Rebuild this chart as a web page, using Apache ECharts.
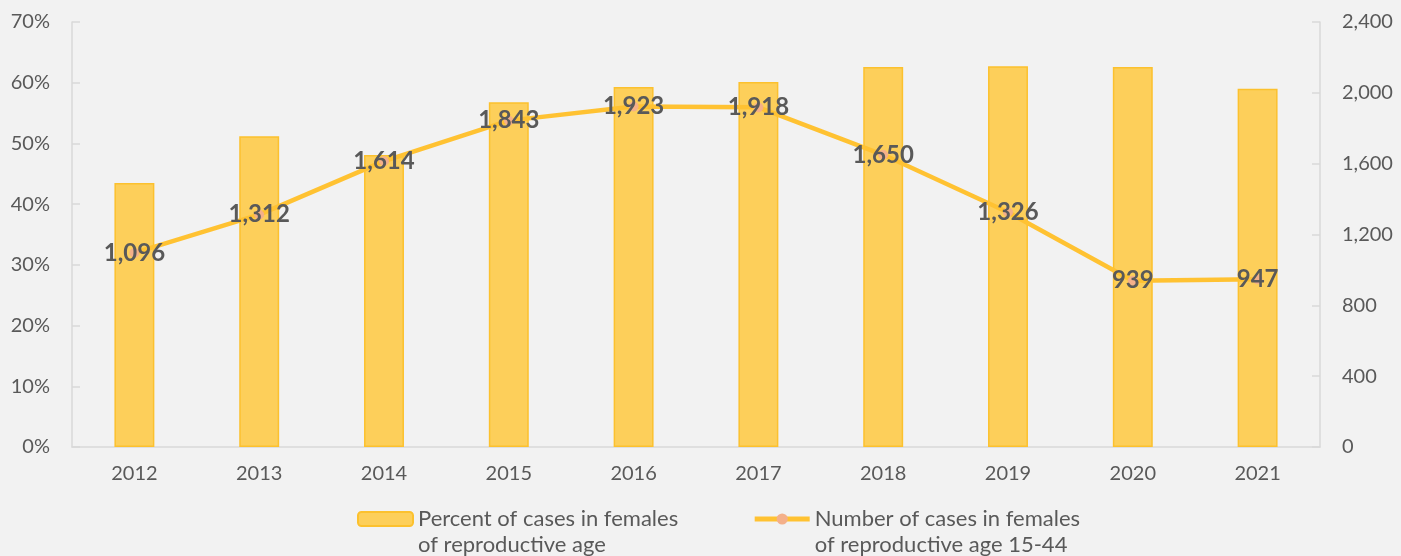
<!DOCTYPE html>
<html>
<head>
<meta charset="utf-8">
<script src="https://cdn.jsdelivr.net/npm/echarts@6/dist/echarts.min.js"></script>
<style>
  html, body { margin: 0; padding: 0; background: #f2f2f2; }
  #chart { width: 1401px; height: 556px; }
</style>
</head>
<body>
<div id="chart"></div>
<script>
// Years on the category axis
const years = ['2012', '2013', '2014', '2015', '2016', '2017', '2018', '2019', '2020', '2021'];
// Share of cases in females of reproductive age (%)
const percentFemales = [43.5, 51.2, 48.1, 56.8, 59.3, 60.1, 62.6, 62.7, 62.6, 59.0];
// Number of cases in females aged 15-44
const casesFemales = [1096, 1312, 1614, 1843, 1923, 1918, 1650, 1326, 939, 947];
// Series names (legend)
const barName = 'Percent of cases in females\nof reproductive age';
const lineName = 'Number of cases in females\nof reproductive age 15-44';

const textColor = '#595959';
const axisColor = '#d9d9d9';
const fontFamily = 'Lato, "Open Sans", sans-serif';

const chart = echarts.init(document.getElementById('chart'));
chart.setOption({
  backgroundColor: '#f2f2f2',
  animation: false,
  textStyle: { fontFamily: fontFamily },
  grid: { left: 72, right: 81, top: 22, bottom: 109, containLabel: false },
  legend: {
    left: 357,
    top: 480,
    padding: 0,
    itemGap: 74,
    itemWidth: 55,
    itemHeight: 14,
    // a leading empty line keeps the first text line level with the icon
    formatter: name => '\n' + name,
    lineStyle: { width: 5 },
    textStyle: {
      color: textColor,
      fontSize: 22,
      fontFamily: fontFamily,
      lineHeight: 26
    },
    data: [barName, lineName]
  },
  xAxis: {
    type: 'category',
    data: years,
    axisLine: { lineStyle: { color: axisColor, width: 1.5 } },
    axisTick: { show: false },
    axisLabel: { color: textColor, fontSize: 20, margin: 17 }
  },
  yAxis: [
    {
      type: 'value',
      min: 0,
      max: 0.7,
      interval: 0.1,
      axisLine: { show: true, lineStyle: { color: axisColor, width: 1.5 } },
      axisTick: { show: true, inside: true, length: 8, lineStyle: { color: axisColor, width: 1.5 } },
      splitLine: { show: false },
      axisLabel: {
        color: textColor,
        fontSize: 20,
        margin: 22,
        formatter: v => Math.round(v * 100) + '%'
      }
    },
    {
      type: 'value',
      min: 0,
      max: 2400,
      interval: 400,
      position: 'right',
      axisLine: { show: true, lineStyle: { color: axisColor, width: 1.5 } },
      axisTick: { show: true, inside: true, length: 8, lineStyle: { color: axisColor, width: 1.5 } },
      splitLine: { show: false },
      axisLabel: {
        color: textColor,
        fontSize: 20,
        margin: 22,
        formatter: v => v.toLocaleString('en-US')
      }
    }
  ],
  series: [
    {
      name: barName,
      type: 'bar',
      yAxisIndex: 0,
      barWidth: '32%',
      data: percentFemales.map(v => v / 100),
      itemStyle: { color: '#fdcf5a', borderColor: '#fcc12e', borderWidth: 1.5 }
    },
    {
      name: lineName,
      type: 'line',
      yAxisIndex: 1,
      data: casesFemales,
      symbol: 'circle',
      symbolSize: 9,
      lineStyle: { color: '#ffc232', width: 4.5 },
      itemStyle: { color: '#f4b08a', borderColor: '#f4b08a' },
      label: {
        show: true,
        position: 'inside',
        color: textColor,
        fontSize: 24,
        fontWeight: 'bold',
        fontFamily: fontFamily,
        formatter: p => p.value.toLocaleString('en-US')
      },
      z: 3
    }
  ]
});
</script>
</body>
</html>
